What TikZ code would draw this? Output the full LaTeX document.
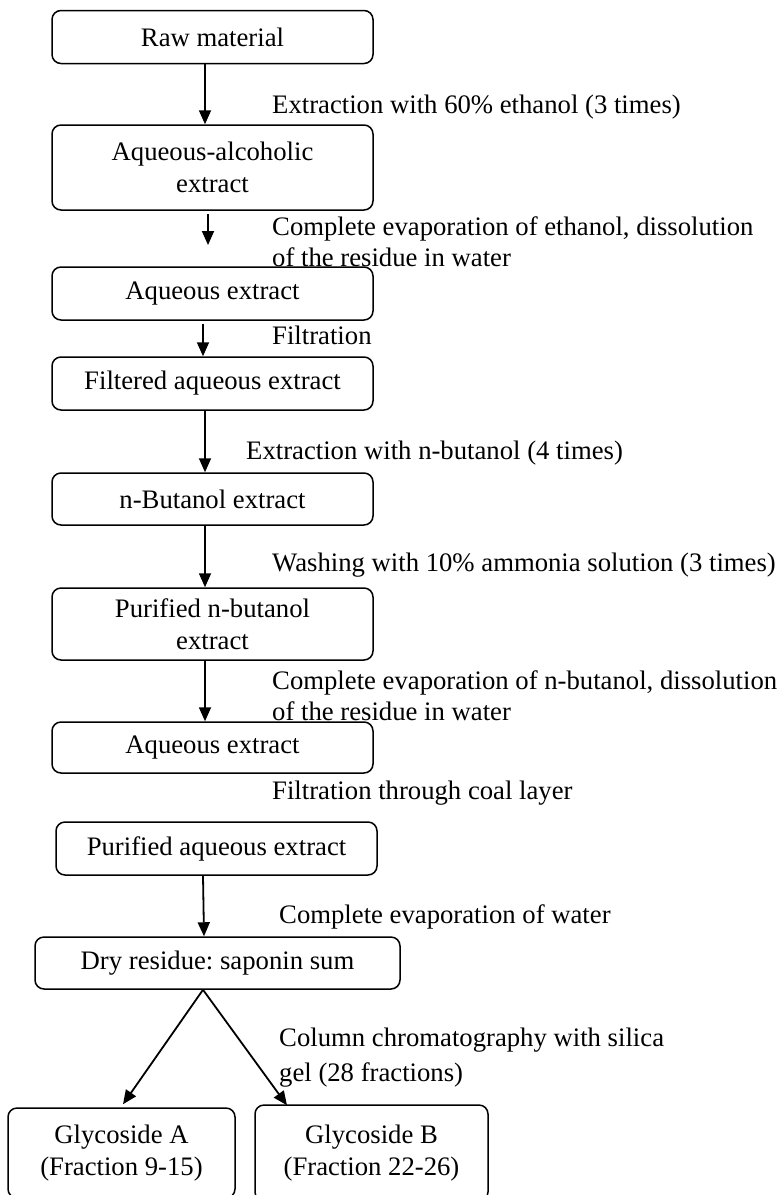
\documentclass[tikz,border=0pt]{standalone}
\usepackage{fontspec}
\setmainfont{Liberation Serif}
\usetikzlibrary{arrows.meta}
\frenchspacing
\begin{document}
\begin{tikzpicture}[x=1pt,y=-1pt,
  box/.style={draw, line width=1.5pt, rounded corners=9pt, minimum width=321pt, inner sep=0pt, align=center, font=\fontsize{26.7}{31.5}\selectfont},
  lbl/.style={anchor=west, inner sep=0pt, align=left, font=\fontsize{26.7}{31}\selectfont},
  arr/.style={line width=1.8pt, -{Triangle[length=14pt,width=12pt]}}]
\useasboundingbox (0,0) rectangle (781,1195);
\node[box, minimum height=53pt] (b1) at (212.5,37) {Raw material};
\node[box, minimum height=85pt] (b2) at (212.5,167.5) {\rule{0pt}{6pt}Aqueous-alcoholic\\extract};
\node[box, minimum height=53pt] (b3) at (212.5,293.5) {Aqueous extract};
\node[box, minimum height=53pt] (b4) at (212.5,383.5) {Filtered aqueous extract};
\node[box, minimum height=52pt] (b5) at (212.5,499) {n-Butanol extract};
\node[box, minimum height=72pt] (b6) at (212.5,624) {Purified n-butanol\\extract};
\node[box, minimum height=51pt] (b7) at (212.5,747.5) {Aqueous extract};
\node[box, minimum height=53pt] (b8) at (216.5,848.5) {Purified aqueous extract};
\node[box, minimum height=52pt, minimum width=365pt] (b9) at (217.5,963) {Dry residue: saponin sum};
\node[box, minimum height=90pt, minimum width=227pt] (gA) at (121.5,1153) {Glycoside A\\(Fraction 9-15)};
\node[box, minimum height=96pt, minimum width=233pt] (gB) at (371.5,1153) {Glycoside B\\(Fraction 22-26)};

\coordinate (e2) at (208,245);

\draw[arr] ([xshift=-7.5pt]b1.south) -- ([xshift=-7.5pt]b2.north);
\draw[arr] ([xshift=-4.5pt,yshift=-3pt]b2.south) -- (e2);
\draw[arr] ([xshift=-9.5pt,yshift=-3pt]b3.south) -- ([xshift=-9.5pt]b4.north);
\draw[arr] ([xshift=-7.5pt]b4.south) -- ([xshift=-7.5pt]b5.north);
\draw[arr] ([xshift=-7.5pt]b5.south) -- ([xshift=-7.5pt]b6.north);
\draw[arr] ([xshift=-7.5pt]b6.south) -- ([xshift=-7.5pt]b7.north);
\draw[arr] ([xshift=-13.5pt]b8.south) -- ([xshift=-13.5pt]b9.north);
\draw[arr] ([xshift=-14.5pt]b9.south) -- ([xshift=1.5pt,yshift=3pt]gA.north);
\draw[arr] ([xshift=-14.5pt]b9.south) -- ([xshift=-84.5pt,yshift=-1pt]gB.north);

\node[lbl] (l1) at (272,107) {Extraction with 60\% ethanol (3 times)};
\node[lbl] (l2) at (272,242) {Complete evaporation of ethanol, dissolution\\of the residue in water};
\node[lbl] (l3) at (272,335) {Filtration};
\node[lbl] (l4) at (246,453) {Extraction with n-butanol (4 times)};
\node[lbl] (l5) at (272,565) {Washing with 10\% ammonia solution (3 times)};
\node[lbl] (l6) at (272,696) {Complete evaporation of n-butanol, dissolution\\of the residue in water};
\node[lbl] (l7) at (272,793) {Filtration through coal layer};
\node[lbl] (l8) at (279,917) {Complete evaporation of water};
\node[lbl, font=\fontsize{26.7}{35}\selectfont] (l9) at (279,1057.5) {Column chromatography with silica\\gel (28 fractions)};
\end{tikzpicture}
\end{document}
